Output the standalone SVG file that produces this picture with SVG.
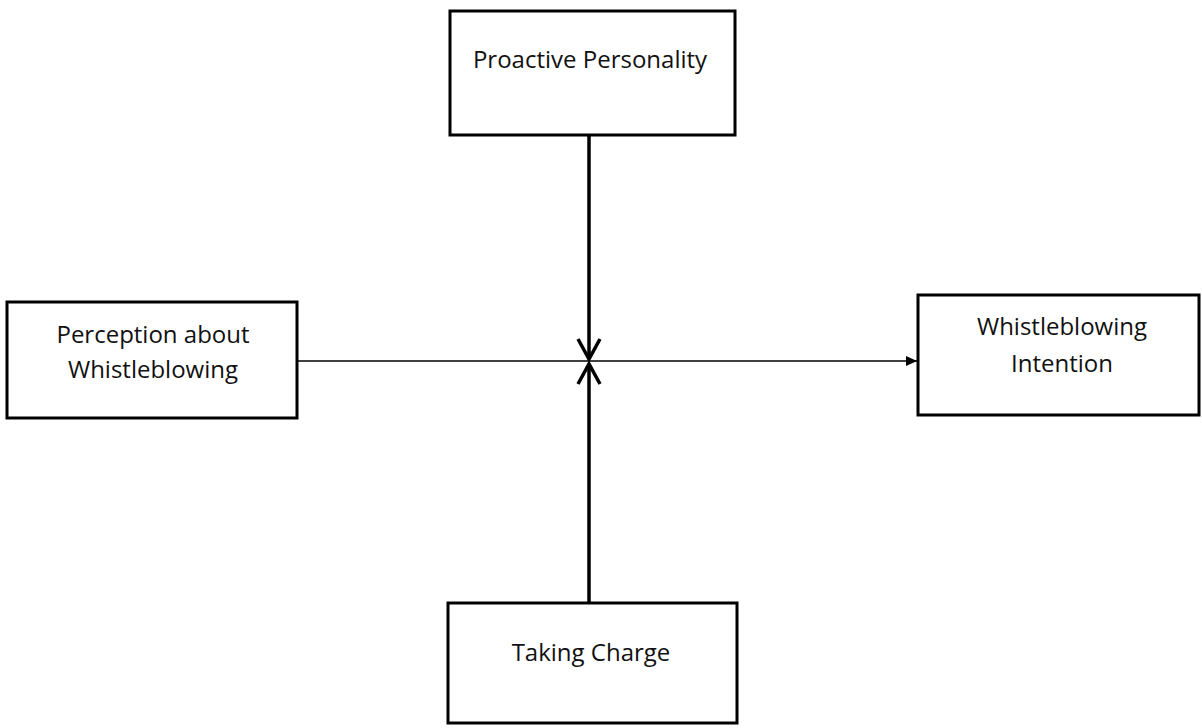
<svg xmlns="http://www.w3.org/2000/svg" width="1202" height="728" viewBox="0 0 1202 728">
<style>
.box{fill:#fff;stroke:#000;stroke-width:3}
.lbl{font-family:"Open Sans","Noto Sans",sans-serif;font-size:24px;fill:#111;text-anchor:middle}
.thick{stroke:#000;stroke-width:3.5;fill:none}
.thin{stroke:#000;stroke-width:1.6;fill:none}
</style>
<defs>
<marker id="tri" markerWidth="12" markerHeight="12" refX="11" refY="6" orient="auto" markerUnits="userSpaceOnUse">
<path d="M0,1 L11,6 L0,11 Z" fill="#000"/>
</marker>
</defs>
<rect width="1202" height="728" fill="#fff"/>
<g id="connectors">
<line class="thin" x1="297" y1="361" x2="917" y2="361" marker-end="url(#tri)"/>
<line class="thick" x1="589" y1="135" x2="589" y2="359"/>
<polyline class="thick" points="578,339 589,359 600,339"/>
<line class="thick" x1="589" y1="603" x2="589" y2="364"/>
<polyline class="thick" points="578,384 589,364 600,384"/>
</g>
<g id="proactive">
<rect class="box" x="450" y="11" width="285" height="124"/>
<text class="lbl" x="590" y="68">Proactive Personality</text>
</g>
<g id="perception">
<rect class="box" x="7" y="302" width="290" height="116"/>
<text class="lbl" x="153" y="343">Perception about</text>
<text class="lbl" x="153" y="378">Whistleblowing</text>
</g>
<g id="intention">
<rect class="box" x="918" y="295" width="281" height="120"/>
<text class="lbl" x="1062" y="335">Whistleblowing</text>
<text class="lbl" x="1062" y="372">Intention</text>
</g>
<g id="taking">
<rect class="box" x="448" y="603" width="289" height="120"/>
<text class="lbl" x="591" y="661">Taking Charge</text>
</g>
</svg>
